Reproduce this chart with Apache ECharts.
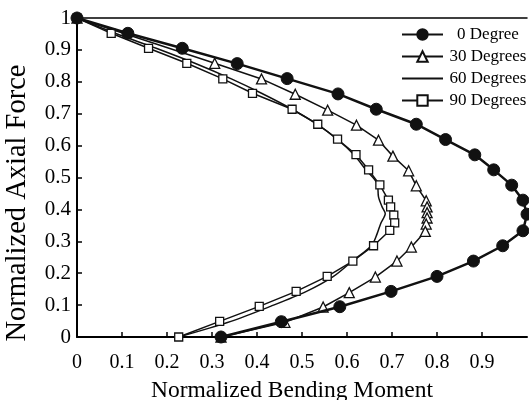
<!DOCTYPE html>
<html lang="en">

<head>
    <meta charset="UTF-8">
    <title>Interaction curves</title>
    <script src="https://cdn.jsdelivr.net/npm/echarts/dist/echarts.min.js"></script>
    <style>
        * {
            margin: 0px;
            padding: 0px;
        }

        #chart {
            width: 529px;
            height: 400px;
            background: #fff;
        }
    </style>
</head>

<body>
    <div id="chart"></div>

    <script type="text/javascript">
        // 0 Degree (filled circles)
        var deg0X = [0, 0.113, 0.234, 0.356, 0.467, 0.58, 0.665, 0.754, 0.819, 0.884, 0.926, 0.966, 0.991, 1.0, 0.991, 0.946, 0.881, 0.800, 0.698, 0.584, 0.454, 0.32];
        var deg0Y = [1, 0.952, 0.905, 0.857, 0.810, 0.762, 0.714, 0.667, 0.619, 0.571, 0.524, 0.476, 0.429, 0.385, 0.333, 0.286, 0.238, 0.190, 0.143, 0.095, 0.048, 0];

        // 30 Degrees (open triangles)
        var deg30X = [0, 0.306, 0.41, 0.485, 0.557, 0.621, 0.670, 0.702, 0.737, 0.754, 0.776, 0.778, 0.778, 0.778, 0.776, 0.774, 0.743, 0.711, 0.663, 0.605, 0.547, 0.462, 0.32];
        var deg30Y = [1, 0.858, 0.809, 0.761, 0.711, 0.664, 0.617, 0.567, 0.521, 0.474, 0.427, 0.408, 0.39, 0.373, 0.354, 0.331, 0.282, 0.238, 0.188, 0.139, 0.094, 0.046, 0];

        // 60 Degrees (line only)
        var deg60X = [0, 0.085, 0.176, 0.262, 0.343, 0.41, 0.478, 0.533, 0.578, 0.615, 0.642, 0.667, 0.67, 0.678, 0.685, 0.675, 0.667, 0.655, 0.612, 0.57, 0.51, 0.43, 0.342, 0.226];
        var deg60Y = [1, 0.952, 0.905, 0.858, 0.809, 0.764, 0.714, 0.667, 0.620, 0.572, 0.524, 0.481, 0.439, 0.408, 0.387, 0.356, 0.324, 0.288, 0.238, 0.19, 0.143, 0.096, 0.049, 0];

        // 90 Degrees (open squares)
        var deg90X = [0, 0.076, 0.159, 0.244, 0.324, 0.39, 0.478, 0.535, 0.579, 0.620, 0.648, 0.673, 0.692, 0.697, 0.704, 0.706, 0.695, 0.659, 0.613, 0.556, 0.487, 0.405, 0.317, 0.226];
        var deg90Y = [1, 0.952, 0.905, 0.858, 0.809, 0.764, 0.714, 0.667, 0.620, 0.572, 0.524, 0.477, 0.429, 0.408, 0.382, 0.358, 0.334, 0.286, 0.238, 0.190, 0.143, 0.096, 0.049, 0];

        var names = ['0 Degree', '30 Degrees', '60 Degrees', '90 Degrees'];

        var font = 'Liberation Serif';

        // x/y 数组合成点
        function pairs(xs, ys) {
            var out = [];
            for (var i = 0; i < xs.length; i++) {
                out.push([xs[i], ys[i]]);
            }
            return out;
        }

        var myChart = echarts.init(document.getElementById('chart'));

        var axisCommon = {
            type: 'value',
            min: 0,
            max: 1,
            interval: 0.1,
            splitLine: { show: false },
            axisLine: { show: true, lineStyle: { color: '#000', width: 2 } },
            axisTick: { show: true, inside: true, length: 5, lineStyle: { color: '#000', width: 1.5 } }
        };

        var option = {
            animation: false,
            grid: {
                left: 77,
                right: 2,
                top: 18,
                bottom: 63,
                outerBoundsMode: 'none'
            },
            legend: {
                orient: 'vertical',
                left: 401,
                top: 26,
                padding: 0,
                itemWidth: 41,
                itemHeight: 13,
                itemGap: 5,
                data: [
                    { name: names[0] },
                    { name: names[1] },
                    { name: names[2], itemStyle: { opacity: 0 } },
                    { name: names[3] }
                ],
                formatter: function (name) {
                    return '{t|' + name + '}';
                },
                textStyle: {
                    fontFamily: font,
                    fontSize: 17,
                    color: '#000',
                    rich: {
                        t: { width: 80, align: 'center', fontFamily: font, fontSize: 17, color: '#000' }
                    }
                }
            },
            xAxis: [
                Object.assign({}, axisCommon, {
                    name: 'Normalized Bending Moment',
                    nameLocation: 'middle',
                    nameGap: 42,
                    nameTextStyle: { fontFamily: font, fontSize: 23.5, color: '#000', padding: [0, 20, 0, 0] },
                    axisLabel: { fontFamily: font, fontSize: 20, color: '#000', margin: 16, showMaxLabel: false }
                }),
                {
                    type: 'value',
                    position: 'top',
                    min: 0,
                    max: 1,
                    axisLine: { show: true, onZero: false, lineStyle: { color: '#000', width: 1.5 } },
                    axisTick: { show: false },
                    axisLabel: { show: false },
                    splitLine: { show: false }
                }
            ],
            yAxis: Object.assign({}, axisCommon, {
                name: 'Normalized Axial Force',
                nameLocation: 'middle',
                nameGap: 45,
                nameTextStyle: { fontFamily: font, fontSize: 28.5, color: '#000', padding: [0, 51, 0, 0] },
                axisLabel: { fontFamily: font, fontSize: 21, color: '#000', margin: 6 }
            }),
            series: [
                {
                    name: names[0],
                    type: 'line',
                    z: 5,
                    data: pairs(deg0X, deg0Y),
                    symbol: 'circle',
                    symbolSize: 12,
                    itemStyle: { color: '#111', borderColor: '#111', borderWidth: 1 },
                    lineStyle: { color: '#111', width: 2.5 }
                },
                {
                    name: names[1],
                    type: 'line',
                    data: pairs(deg30X, deg30Y),
                    symbol: 'triangle',
                    symbolSize: 10,
                    itemStyle: { color: '#fff', borderColor: '#111', borderWidth: 1.3 },
                    lineStyle: { color: '#111', width: 1.5 }
                },
                {
                    name: names[2],
                    type: 'line',
                    data: pairs(deg60X, deg60Y),
                    symbol: 'none',
                    smooth: 0.3,
                    itemStyle: { color: '#111' },
                    lineStyle: { color: '#111', width: 1.5 }
                },
                {
                    name: names[3],
                    type: 'line',
                    data: pairs(deg90X, deg90Y),
                    symbol: 'rect',
                    symbolSize: 8,
                    itemStyle: { color: '#fff', borderColor: '#111', borderWidth: 1.3 },
                    lineStyle: { color: '#111', width: 1.5 }
                }
            ]
        };

        myChart.setOption(option);
    </script>
</body>

</html>
